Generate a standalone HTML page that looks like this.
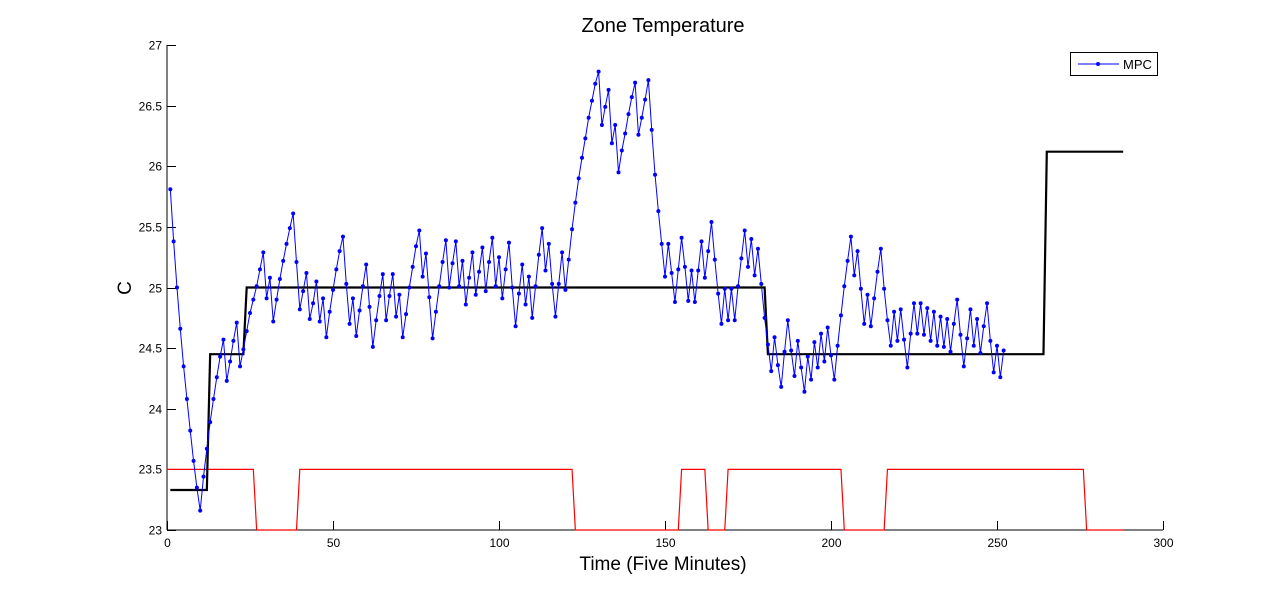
<!DOCTYPE html>
<html><head><meta charset="utf-8"><style>
html,body{margin:0;padding:0;background:#fff;width:1285px;height:595px;overflow:hidden}
svg{display:block;font-family:"Liberation Sans",sans-serif}
</style></head><body>
<svg id="chart" width="1285" height="595" viewBox="0 0 1285 595">
<rect width="1285" height="595" fill="#fff"/>
<text x="663" y="32" text-anchor="middle" font-size="20">Zone Temperature</text>
<text x="663" y="570" text-anchor="middle" font-size="19">Time (Five Minutes)</text>
<text x="126" y="288" text-anchor="middle" font-size="19" transform="rotate(-90 126 288)" dominant-baseline="middle">C</text>
<g id="axes"></g>
<g id="plot"></g>
<g>
<rect x="1070.5" y="52.5" width="87" height="23" fill="#fff" stroke="#000"/>
<line x1="1078" y1="64" x2="1119" y2="64" stroke="#00f"/>
<circle cx="1098" cy="64" r="2" fill="#00f"/>
<text x="1123" y="69" font-size="13">MPC</text>
</g>
</svg>
<script>
const xTicks=[0,50,100,150,200,250,300];
const yTicks=[23,23.5,24,24.5,25,25.5,26,26.5,27];
const mpcStart=1;
const mpcValues=[25.81,25.38,25.0,24.66,24.35,24.08,23.82,23.57,23.35,23.16,23.44,23.67,23.89,24.08,24.26,24.43,24.57,24.23,24.39,24.56,24.71,24.35,24.49,24.64,24.79,24.90,25.01,25.15,25.29,24.91,25.08,24.72,24.90,25.07,25.22,25.36,25.49,25.61,25.21,24.82,24.97,25.12,24.74,24.87,25.05,24.72,24.91,24.59,24.80,24.98,25.15,25.30,25.42,25.03,24.70,24.91,24.60,24.81,25.01,25.19,24.84,24.51,24.73,24.93,25.11,24.73,24.93,25.11,24.76,24.94,24.59,24.78,25.00,25.17,25.34,25.47,25.09,25.28,24.92,24.58,24.80,25.01,25.21,25.39,25.00,25.20,25.38,25.01,25.22,24.86,25.08,25.29,24.94,25.13,25.33,24.97,25.21,25.41,25.01,25.25,24.91,25.15,25.37,25.00,24.68,24.95,25.19,24.86,25.09,24.75,25.01,25.27,25.49,25.14,25.36,25.03,24.76,25.03,25.29,24.98,25.23,25.48,25.70,25.90,26.07,26.23,26.40,26.54,26.68,26.78,26.34,26.49,26.63,26.19,26.34,25.95,26.13,26.27,26.43,26.57,26.69,26.26,26.40,26.55,26.71,26.30,25.93,25.63,25.36,25.09,25.36,25.12,24.88,25.15,25.41,25.17,24.89,25.14,24.88,25.14,25.38,25.08,25.30,25.54,25.23,24.95,24.70,24.99,24.73,24.99,24.73,25.01,25.24,25.47,25.17,25.40,25.10,25.32,25.03,24.75,24.53,24.31,24.59,24.36,24.18,24.47,24.73,24.48,24.27,24.56,24.34,24.14,24.43,24.24,24.55,24.34,24.62,24.39,24.67,24.44,24.24,24.52,24.77,25.01,25.22,25.42,25.10,25.30,24.99,24.70,24.94,24.68,24.91,25.13,25.32,24.99,24.73,24.52,24.80,24.56,24.82,24.57,24.34,24.62,24.87,24.62,24.87,24.61,24.83,24.56,24.80,24.52,24.76,24.51,24.74,24.47,24.70,24.90,24.61,24.35,24.58,24.82,24.52,24.74,24.46,24.68,24.87,24.56,24.30,24.52,24.26,24.48];
const setX=[1,12,13,23,24,180,181,264,265,288];
const setY=[23.33,23.33,24.45,24.45,25,25,24.45,24.45,26.12,26.12];
const occX=[0,26,27,39,40,122,123,154,155,162,163,168,169,203,204,216,217,276,277,288];
const occY=[23.5,23.5,23,23,23.5,23.5,23,23,23.5,23.5,23,23,23.5,23.5,23,23,23.5,23.5,23,23];

const NS='http://www.w3.org/2000/svg';
const X0=167,X1=1163,Y0=530,Y1=45;
const xs=v=>X0+(v-0)/(300-0)*(X1-X0);
const ys=v=>Y0-(v-23)/(27-23)*(Y0-Y1);
function mk(tag,attrs,parent){const e=document.createElementNS(NS,tag);for(const k in attrs)e.setAttribute(k,attrs[k]);parent.appendChild(e);return e;}
const axes=document.getElementById('axes'),plot=document.getElementById('plot');

let el=mk('line',{x1:X0,y1:Y0,x2:X1,y2:Y0,stroke:'#000'},axes);


el=mk('line',{x1:X0,y1:Y0,x2:X0,y2:Y1,stroke:'#000'},axes);


xTicks.forEach(t=>{
  const x=Math.round(xs(t))+0.5;
  let tk=mk('line',{x1:x,y1:Y0,x2:x,y2:Y0-9,stroke:'#000'},axes);
  
  
  let lb=mk('text',{x:x,y:Y0+17,'text-anchor':'middle','font-size':12},axes);
  lb.textContent=t;
  
  
});
yTicks.forEach(t=>{
  const y=Math.round(ys(t))+0.5;
  let tk=mk('line',{x1:X0,y1:y,x2:X0+9,y2:y,stroke:'#000'},axes);
  
  
  let lb=mk('text',{x:X0-5,y:y+4,'text-anchor':'end','font-size':12},axes);
  lb.textContent=t;
  
  
});
// occupancy (red)
let p=mk('polyline',{points:occX.map((x,i)=>xs(x)+','+ys(occY[i])).join(' '),fill:'none',stroke:'#f00','stroke-width':1.2},plot);


// setpoint (black)
p=mk('polyline',{points:setX.map((x,i)=>xs(x)+','+ys(setY[i])).join(' '),fill:'none',stroke:'#000','stroke-width':2.2},plot);


// MPC (blue)
p=mk('polyline',{points:mpcValues.map((v,i)=>xs(mpcStart+i)+','+ys(v)).join(' '),fill:'none',stroke:'#00f','stroke-width':1},plot);


mpcValues.forEach((v,i)=>{
  const c=mk('circle',{cx:xs(mpcStart+i),cy:ys(v),r:2,fill:'#00f'},plot);
  
  
});
</script>
</body></html>
